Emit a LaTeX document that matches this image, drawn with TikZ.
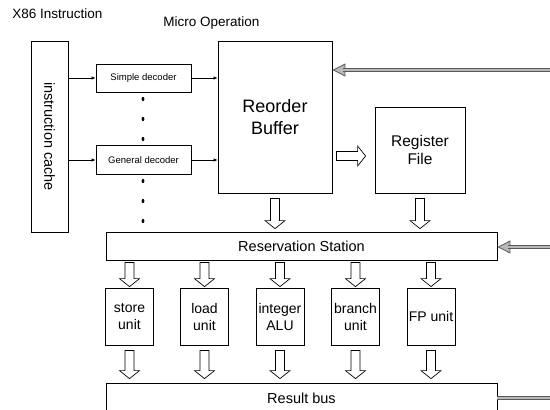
\documentclass[tikz,border=0pt]{standalone}
\usepackage{fontspec}
\setmainfont{Liberation Sans}
\usetikzlibrary{arrows.meta,calc}

\begin{document}
\begin{tikzpicture}[x=1pt, y=-1pt, line width=0.8pt, >={Latex[length=4pt,width=3.5pt]},
	every node/.style={font=\fontsize{14.5}{17}\selectfont, align=center, inner sep=0pt},
	box/.style args={#1/#2}{draw, minimum width=#1pt, minimum height=#2pt},
	hollow/.style={draw, fill=white, line width=0.7pt, to path={
		($(\tikztostart)!4.5pt!90:(\tikztotarget)$)
		-- ($($(\tikztotarget)!8pt!(\tikztostart)$)!4.5pt!-90:(\tikztostart)$)
		-- ($($(\tikztotarget)!8pt!(\tikztostart)$)!10pt!-90:(\tikztostart)$)
		-- (\tikztotarget)
		-- ($($(\tikztotarget)!8pt!(\tikztostart)$)!10pt!90:(\tikztostart)$)
		-- ($($(\tikztotarget)!8pt!(\tikztostart)$)!4.5pt!90:(\tikztostart)$)
		-- ($(\tikztostart)!4.5pt!-90:(\tikztotarget)$) -- cycle}},
	feed/.style={draw=black!65, double=gray!55, double distance=2.6pt, line width=0.9pt},
	feedtip/.style={draw=black!65, line width=0.8pt, -{Triangle[length=13pt,width=13pt,fill=gray!55]}}]
	\path[use as bounding box, clip] (0,0) rectangle (550,410);
	\node[anchor=west, font=\fontsize{13.5}{16}\selectfont] (x86) at (12,14) {X86 Instruction};
	\node[anchor=west, font=\fontsize{13.5}{16}\selectfont] (uop) at (163,23) {Micro Operation};
	% front end
	\node[box=191/37, rotate=-90] (cache) at (49.5,136.5) {instruction cache};
	\node[box=95/28, font=\fontsize{9.5}{11}\selectfont] (sd) at (143.5,78) {Simple decoder};
	\node[box=95/29, font=\fontsize{9.5}{11}\selectfont] (gd) at (143.5,160) {General decoder};
	\foreach \y in {99,119,139,181,201,221} {\fill (143,\y) ellipse (1.4pt and 2.1pt);}
	\node[box=114/152, font=\fontsize{18}{22}\selectfont] (rob) at (275,117) {Reorder\\Buffer};
	\node[box=90/86, font=\fontsize{15.5}{18}\selectfont] (rf) at (420,150) {Register\\File};
	\foreach \d in {sd,gd} {\draw[->] (\d.west -| cache.north) -- (\d.west); \draw[->] (\d.east) -- (\d.east -| rob.west);}
	% back end
	\node[box=391/28] (rs) at (301.5,246) {Reservation Station};
	\node[box=391/30] (bus) at (301.5,398) {Result bus};
	\foreach \x/\u/\txt in {129.5/su/{store\\unit}, 204.5/lu/{load\\unit}, 280/alu/{integer\\ALU}, 355.5/bu/{branch\\unit}, 431/fpu/{FP unit}} {
		\node[box=48/57, font=\fontsize{14}{17}\selectfont] (\u) at (\x,316.5) {\txt};
		\draw[hollow] ([yshift=-2pt]rs.south -| \u.north) to ([yshift=1pt]\u.north);
		\draw[hollow] ([yshift=-5pt]\u.south) to ([yshift=4pt]\u.south |- bus.north);
	}
	\draw[hollow] ([xshift=4pt,yshift=-6pt]rob.east |- rf.west) to ([xshift=-9pt,yshift=-6pt]rf.west);
	\draw[hollow] ([yshift=-5pt]rob.south) to ([yshift=3pt]rob.south |- rs.north);
	\draw[hollow] ([yshift=-5pt]rf.south) to ([yshift=3pt]rf.south |- rs.north);
	% results fed back from the right
	\coordinate (fbtop) at (550,70);
	\coordinate (fbmid) at (550,247);
	\coordinate (fbbot) at (550,398);
	\draw[feedtip] (fbtop) -- (rob.east |- fbtop);
	\draw[feed, shorten >=11pt] (fbtop) -- (rob.east |- fbtop);
	\draw[feedtip] (fbmid) -- (rs.east |- fbmid);
	\draw[feed, shorten >=11pt] (fbmid) -- (rs.east |- fbmid);
	\draw[feed] (bus.east) -- (fbbot);
\end{tikzpicture}
\end{document}
